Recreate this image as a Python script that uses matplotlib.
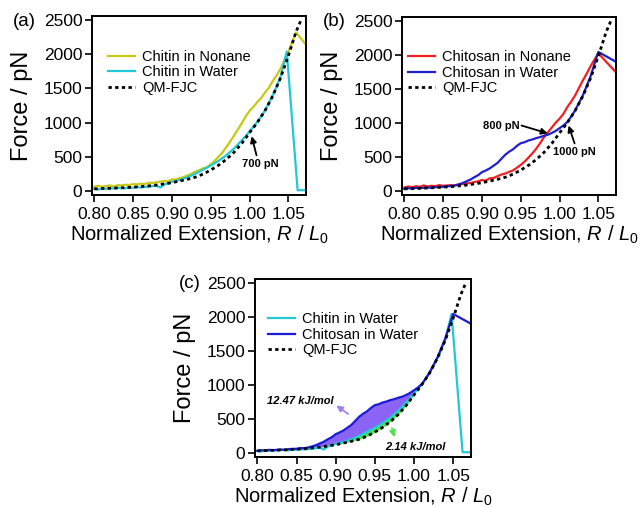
import numpy as np
import matplotlib
matplotlib.use("Agg")
import matplotlib.pyplot as plt

plt.rcParams['font.family'] = ['Liberation Sans', 'DejaVu Sans']
plt.rcParams['mathtext.fontset'] = 'custom'
plt.rcParams['mathtext.rm'] = 'Liberation Sans'
plt.rcParams['mathtext.it'] = 'Liberation Sans:italic'

# ---------------- data ----------------
fjc_x = [0.80, 0.82, 0.84, 0.86, 0.88, 0.90, 0.92, 0.93, 0.94, 0.95, 0.96, 0.97,
         0.98, 0.99, 1.00, 1.01, 1.02, 1.03, 1.04, 1.05, 1.06, 1.066]
fjc_f = [30, 38, 48, 62, 85, 120, 170, 200, 245, 305, 375, 460,
         565, 695, 850, 1000, 1175, 1390, 1655, 1975, 2330, 2490]

ext_x = [0.800, 0.805, 0.810, 0.815, 0.820, 0.825, 0.830, 0.835, 0.840, 0.845,
         0.850, 0.855, 0.860, 0.865, 0.870, 0.875, 0.880, 0.885, 0.890, 0.895,
         0.900, 0.905, 0.910, 0.915, 0.920, 0.925, 0.930, 0.935, 0.940, 0.945,
         0.950, 0.955, 0.960, 0.965, 0.970, 0.975, 0.980, 0.985, 0.990, 0.995,
         1.000, 1.005, 1.010, 1.015, 1.020, 1.025, 1.030, 1.035, 1.040]

chitin_nonane_f = [60, 75, 60, 70, 80, 65, 85, 80, 90, 85,
                   100, 95, 105, 100, 120, 115, 125, 135, 145, 140,
                   170, 165, 190, 200, 225, 250, 280, 300, 330, 345,
                   390, 440, 500, 560, 640, 720, 810, 900, 990, 1090,
                   1170, 1230, 1300, 1360, 1440, 1510, 1610, 1690, 1790]
chitin_nonane_tail_x = [1.05, 1.06, 1.072]
chitin_nonane_tail_f = [2030, 2320, 2150]

chitin_water_f = [30, 20, 35, 30, 40, 35, 45, 40, 38, 50,
                  45, 55, 50, 60, 60, 70, 75, 50, 95, 110,
                  135, 145, 160, 180, 200, 225, 250, 280, 310, 340,
                  370, 405, 440, 480, 520, 570, 620, 680, 740, 800,
                  870, 940, 1010, 1090, 1180, 1290, 1400, 1530, 1670]
chitin_water_tail_x = [1.048, 1.062, 1.072]
chitin_water_tail_f = [2040, 10, 10]

chitosan_nonane_f = [50, 65, 55, 70, 60, 80, 65, 75, 70, 85,
                     75, 80, 85, 80, 95, 100, 110, 115, 130, 140,
                     160, 150, 185, 190, 215, 240, 255, 280, 300, 340,
                     380, 430, 490, 550, 620, 700, 790, 860, 930, 1000,
                     1060, 1130, 1230, 1310, 1400, 1510, 1620, 1720, 1830]
chitosan_nonane_tail_x = [1.05, 1.072]
chitosan_nonane_tail_f = [2020, 1750]

chitosan_water_f = [30, 40, 35, 45, 40, 45, 50, 45, 55, 60,
                    60, 70, 70, 80, 95, 115, 140, 165, 200, 230,
                    275, 300, 330, 370, 410, 470, 530, 575, 610, 660,
                    700, 715, 740, 755, 775, 790, 810, 825, 850, 880,
                    920, 960, 1010, 1090, 1180, 1290, 1400, 1540, 1680]
chitosan_water_tail_x = [1.05, 1.072]
chitosan_water_tail_f = [2040, 1900]

x_ticks = [0.80, 0.85, 0.90, 0.95, 1.00, 1.05]
y_ticks = [0, 500, 1000, 1500, 2000, 2500]

C_YEL = '#c8c814'
C_CYAN = '#20c8d8'
C_RED = '#f02020'
C_BLUE = '#1f1fd0'
C_BLUE2 = '#1a1ad8'
C_PURP = '#8c64f5'
C_GREEN = '#50e050'

FJC_LS = (0, (1.2, 1.2))

fig = plt.figure(figsize=(6.4, 5.07), dpi=100)
W, H = 640.0, 507.0


def make_ax(l, t, r, b):
    ax = fig.add_axes([l / W, 1 - b / H, (r - l) / W, (b - t) / H])
    ax.set_xlim(0.797, 1.0728)
    ax.set_ylim(-60, 2560)
    ax.set_xticks(x_ticks)
    ax.set_xticklabels(['%.2f' % v for v in x_ticks])
    ax.set_yticks(y_ticks)
    ax.tick_params(direction='out', length=5, width=1.2, labelsize=12.5, color='black')
    ax.tick_params(axis='x', pad=3.5)
    ax.tick_params(axis='y', pad=2)
    for s in ax.spines.values():
        s.set_linewidth(1.4)
    return ax


def labels(l, r, t, b, xly, ylx, letter, lx, ly):
    cx = (l + r) / 2
    fig.text(cx / W, 1 - xly / H,
             r"Normalized Extension, $R$ / $L_{\mathrm{0}}$",
             ha='center', va='center', fontsize=14.5)
    fig.text(ylx / W, 1 - ((t + b) / 2) / H, "Force / pN", rotation=90,
             ha='center', va='center', fontsize=17)
    fig.text(lx / W, 1 - ly / H, letter, ha='center', va='center', fontsize=13.5)


def legend(ax, x0):
    ax.legend(loc='upper left', bbox_to_anchor=(x0, 0.81), frameon=False, fontsize=10.5,
              borderpad=0, borderaxespad=0, handlelength=1.85, handletextpad=0.5,
              labelspacing=0.1)


def arrow(ax, head, tail, color='black'):
    ax.annotate('', xy=head, xytext=tail,
                arrowprops=dict(arrowstyle='-|>', color=color, lw=1.3, mutation_scale=9,
                                shrinkA=0, shrinkB=0))


# ---------- (a) ----------
axa = make_ax(92, 16, 306, 195)
axa.plot(ext_x + chitin_nonane_tail_x, chitin_nonane_f + chitin_nonane_tail_f,
         color=C_YEL, lw=1.6, label='Chitin in Nonane')
axa.plot(ext_x + chitin_water_tail_x, chitin_water_f + chitin_water_tail_f,
         color=C_CYAN, lw=1.6, label='Chitin in Water')
axa.plot(fjc_x, fjc_f, color='black', lw=2, ls=FJC_LS, label='QM-FJC')
legend(axa, 0.075)
arrow(axa, (1.0028, 800), (1.009, 521))
axa.text(1.0135, 395, '700 pN', ha='center', va='center', fontsize=8, fontweight='bold')
labels(92, 306, 16, 195, 235, 22, '(a)', 24, 22)

# ---------- (b) ----------
axb = make_ax(402, 16.5, 616, 195)
axb.plot(ext_x + chitosan_nonane_tail_x, chitosan_nonane_f + chitosan_nonane_tail_f,
         color=C_RED, lw=1.6, label='Chitosan in Nonane')
axb.plot(ext_x + chitosan_water_tail_x, chitosan_water_f + chitosan_water_tail_f,
         color=C_BLUE, lw=1.6, label='Chitosan in Water')
axb.plot(fjc_x, fjc_f, color='black', lw=2, ls=FJC_LS, label='QM-FJC')
legend(axb, 0.028)
arrow(axb, (0.9847, 845), (0.951, 960))
axb.text(0.9256, 960, '800 pN', ha='center', va='center', fontsize=8, fontweight='bold')
arrow(axb, (1.0117, 960), (1.0194, 698))
axb.text(1.0194, 566, '1000 pN', ha='center', va='center', fontsize=8, fontweight='bold')
labels(402, 616, 16.5, 195, 235, 332, '(b)', 334, 22)

# ---------- (c) ----------
axc = make_ax(255, 278.5, 471, 457)
xx = np.linspace(0.87, 1.005, 300)
fjc_i = np.interp(xx, fjc_x, fjc_f)
cw_i = np.interp(xx, ext_x, chitin_water_f)
sw_i = np.interp(xx, ext_x, chitosan_water_f)
lower = np.maximum(cw_i, fjc_i)
axc.fill_between(xx, lower, sw_i, where=sw_i > lower, color=C_PURP, lw=0, interpolate=True)
xg = np.linspace(0.90, 1.0, 200)
fjc_g = np.interp(xg, fjc_x, fjc_f)
cw_g = np.interp(xg, ext_x, chitin_water_f)
axc.fill_between(xg, fjc_g, cw_g, where=cw_g > fjc_g, color=C_GREEN, lw=0, interpolate=True)
axc.plot(ext_x + chitin_water_tail_x, chitin_water_f + chitin_water_tail_f,
         color=C_CYAN, lw=1.6, label='Chitin in Water')
axc.plot(ext_x + chitosan_water_tail_x, chitosan_water_f + chitosan_water_tail_f,
         color=C_BLUE2, lw=1.6, label='Chitosan in Water')
axc.plot(fjc_x, fjc_f, color='black', lw=2, ls=FJC_LS, label='QM-FJC')
legend(axc, 0.06)
arrow(axc, (0.9008, 696), (0.9158, 573), color='#a080f0')
axc.text(0.855, 759, '12.47 kJ/mol', ha='center', va='center', fontsize=8,
         fontweight='bold', fontstyle='italic')
arrow(axc, (0.975, 230), (0.972, 363), color=C_GREEN)
axc.text(1.0014, 93, '2.14 kJ/mol', ha='center', va='center', fontsize=8,
         fontweight='bold', fontstyle='italic')
labels(255, 471, 278.5, 457, 497, 185, '(c)', 190, 283)

fig.savefig('out.png', dpi=100)
